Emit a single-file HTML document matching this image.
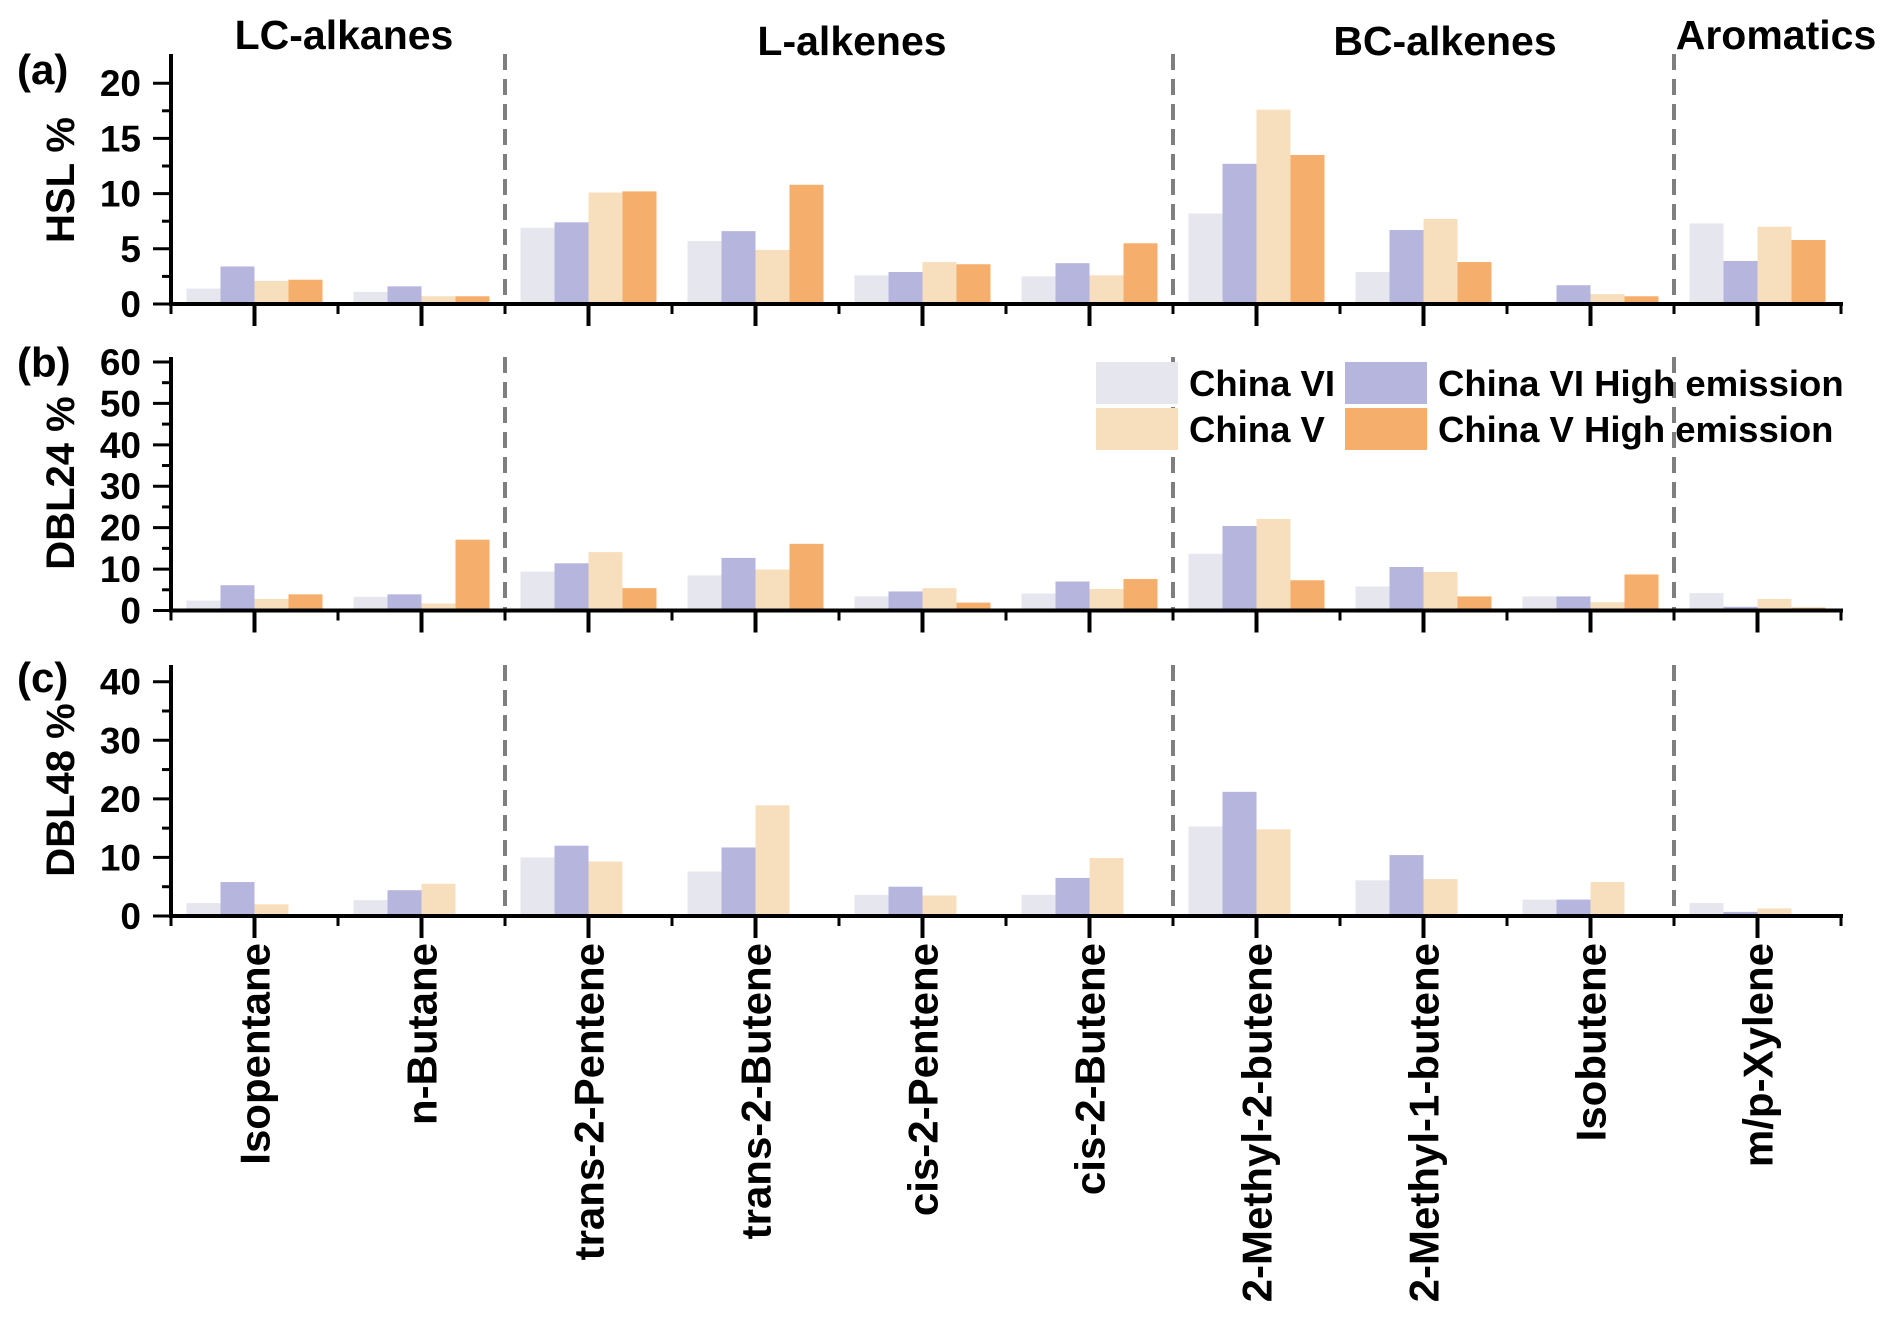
<!DOCTYPE html>
<html><head><meta charset="utf-8"><style>
body{margin:0;background:#fff}
svg{display:block;font-family:"Liberation Sans",Arial,sans-serif;font-weight:bold}
</style></head><body>
<svg id="chart" width="1892" height="1318" viewBox="0 0 1892 1318" xmlns="http://www.w3.org/2000/svg"></svg>
<script>
const categories=["Isopentane","n-Butane","trans-2-Pentene","trans-2-Butene","cis-2-Pentene","cis-2-Butene","2-Methyl-2-butene","2-Methyl-1-butene","Isobutene","m/p-Xylene"];
const seriesNames=["China VI","China VI High emission","China V","China V High emission"];
const hslVI=[1.4,1.1,6.9,5.7,2.6,2.5,8.2,2.9,0.2,7.3];
const hslVIa=[3.4,1.6,7.4,6.6,2.9,3.7,12.7,6.7,1.7,3.9];
const hslV=[2.1,0.7,10.1,4.9,3.8,2.6,17.6,7.7,0.9,7.0];
const hslVa=[2.2,0.7,10.2,10.8,3.6,5.5,13.5,3.8,0.7,5.8];
const d24VI=[2.4,3.3,9.4,8.5,3.4,4.1,13.7,5.8,3.4,4.2];
const d24VIa=[6.1,3.9,11.4,12.7,4.6,7.0,20.4,10.5,3.4,0.9];
const d24V=[2.8,1.7,14.1,9.9,5.4,5.2,22.1,9.3,2.0,2.8];
const d24Va=[3.9,17.1,5.4,16.1,1.9,7.6,7.3,3.4,8.7,0.7];
const d48VI=[2.2,2.7,10.0,7.6,3.6,3.6,15.3,6.1,2.8,2.2];
const d48VIa=[5.8,4.4,12.0,11.7,5.0,6.5,21.2,10.4,2.8,0.7];
const d48V=[2.0,5.5,9.3,18.9,3.5,9.9,14.8,6.3,5.8,1.3];
const d48Va=[0,0,0,0,0,0,0,0,0,0];
const ticksA=[0,5,10,15,20];
const ticksB=[0,10,20,30,40,50,60];
const ticksC=[0,10,20,30,40];
const groupNames=["LC-alkanes","L-alkenes","BC-alkenes","Aromatics"];

const NS="http://www.w3.org/2000/svg";
const svg=document.getElementById('chart');
const colors=["#e6e6ef","#b5b5dd","#f7dfbd","#f5ae6b"];
const X0=171,CW=167;
function xCenter(i){return X0+CW*(i+0.5);}
function el(tag,attrs,parent){const e=document.createElementNS(NS,tag);for(const k in attrs)e.setAttribute(k,attrs[k]);(parent||svg).appendChild(e);return e;}
function txt(s,attrs){const t=el('text',attrs);t.textContent=s;return t;}

const panels=[
 {id:'a',title:'HSL %',zero:304,top:54,ppu:11.04,ticks:ticksA,minor:2.5,series:[hslVI,hslVIa,hslV,hslVa],label:'(a)',ly:84,ty:180},
 {id:'b',title:'DBL24 %',zero:610.5,top:357,ppu:4.142,ticks:ticksB,minor:5,series:[d24VI,d24VIa,d24V,d24Va],label:'(b)',ly:377,ty:483},
 {id:'c',title:'DBL48 %',zero:916,top:665,ppu:5.857,ticks:ticksC,minor:5,series:[d48VI,d48VIa,d48V,d48Va],label:'(c)',ly:692,ty:790}
];

panels.forEach(p=>{
  const y=v=>p.zero-v*p.ppu;
  const g=el('g',{});
  
  
  p.series.forEach((s,si)=>{
    s.forEach((v,i)=>{
      if(!v)return;
      const r=el('rect',{x:xCenter(i)-68+si*34,y:y(v),width:34,height:v*p.ppu,fill:colors[si]},g);
      
      
    });
  });
  [2,6,9].forEach(b=>{
    const l=el('line',{x1:X0+CW*b,x2:X0+CW*b,y1:p.top,y2:p.zero,stroke:'#7f7f7f','stroke-width':4,'stroke-dasharray':'16,9'},g);
    
    
  });
  const ya=el('line',{x1:X0,x2:X0,y1:p.top,y2:p.zero+2,stroke:'#000','stroke-width':4},g);
  
  
  const maxT=p.ticks[p.ticks.length-1];
  for(let v=0;v<=maxT+1e-6;v+=p.minor){
    const major=p.ticks.some(t=>Math.abs(t-v)<1e-6);
    el('line',{x1:major?153:162,x2:X0,y1:y(v),y2:y(v),stroke:'#000','stroke-width':3},g);
  }
  p.ticks.forEach(t=>{
    const tl=txt(String(t),{x:141,y:y(t)+13,'text-anchor':'end','font-size':37});
    
    
  });
  const xa=el('line',{x1:X0-2,x2:X0+CW*10+2,y1:p.zero,y2:p.zero,stroke:'#000','stroke-width':4},g);
  
  
  for(let b=0;b<=10;b++)el('line',{x1:X0+CW*b,x2:X0+CW*b,y1:p.zero,y2:p.zero+10,stroke:'#000','stroke-width':3},g);
  categories.forEach((c,i)=>el('line',{x1:xCenter(i),x2:xCenter(i),y1:p.zero,y2:p.zero+22,stroke:'#000','stroke-width':4},g));
  const at=txt(p.title,{transform:`translate(74,${p.ty}) rotate(-90)`,'text-anchor':'middle','font-size':40});
  
  
  const pl=txt(p.label,{x:17,y:p.ly,'font-size':42});
  
  
});

categories.forEach((c,i)=>{
  const t=txt(c,{transform:`translate(${xCenter(i)+15},943) rotate(-90)`,'text-anchor':'end','font-size':42});
  
  
});
const gx=[344,852,1445,1776],gy=[49,55,55,49];
groupNames.forEach((n,i)=>{
  const t=txt(n,{x:gx[i],y:gy[i],'text-anchor':'middle','font-size':41});
  
  
});
const lg=el('g',{});


const lpos=[[1096,362],[1345,362],[1096,408],[1345,408]];
seriesNames.forEach((n,i)=>{
  const [lx,ly]=lpos[i];
  const r=el('rect',{x:lx,y:ly,width:82,height:42,fill:colors[i]},lg);
  
  
  const t=txt(n,{x:lx+93,y:ly+34,'font-size':36.5});
  lg.appendChild(t);
  
  
});
</script>
</body></html>
